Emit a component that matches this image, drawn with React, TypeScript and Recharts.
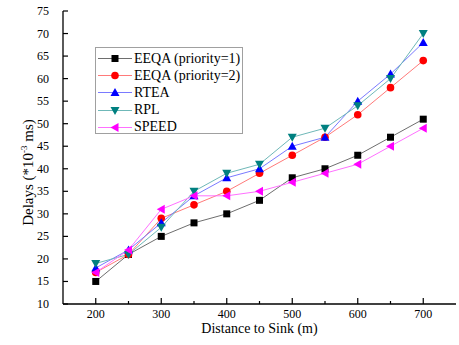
import React from 'react';
import { LineChart, Line, XAxis, YAxis, Label } from 'recharts';

const distances = [200, 250, 300, 350, 400, 450, 500, 550, 600, 650, 700];
const eeqa1 = [15, 21, 25, 28, 30, 33, 38, 40, 43, 47, 51];
const eeqa2 = [17, 21, 29, 32, 35, 39, 43, 47, 52, 58, 64];
const rtea = [18, 22, 28, 34, 38, 40, 45, 47, 55, 61, 68];
const rpl = [19, 21, 27, 35, 39, 41, 47, 49, 54, 60, 70];
const speed = [17, 22, 31, 34, 34, 35, 37, 39, 41, 45, 49];

const seriesNames = ['EEQA (priority=1)', 'EEQA (priority=2)', 'RTEA', 'RPL', 'SPEED'];
const seriesKeys = ['eeqa1', 'eeqa2', 'rtea', 'rpl', 'speed'];
const xTicks = [200, 250, 300, 350, 400, 450, 500, 550, 600, 650, 700];
const yTicks = [10, 15, 20, 25, 30, 35, 40, 45, 50, 55, 60, 65, 70, 75];

const data = distances.map((d, i) => ({
  distance: d,
  eeqa1: eeqa1[i],
  eeqa2: eeqa2[i],
  rtea: rtea[i],
  rpl: rpl[i],
  speed: speed[i],
}));

const FONT = '"Liberation Serif", "Times New Roman", serif';

const markerColors = ['#000000', '#ff0000', '#0000ff', '#008080', '#ff00ff'];
const lineColors = ['#6e6e6e', '#ff7a7a', '#7a7aff', '#6fb8b8', '#ff70ff'];

const Marker = ({ kind, cx, cy }: { kind: number; cx: number; cy: number }) => {
  const c = markerColors[kind];
  if (kind === 0) return <rect x={cx - 3.5} y={cy - 3.5} width={7} height={7} fill={c} />;
  if (kind === 1) return <circle cx={cx} cy={cy} r={3.8} fill={c} />;
  if (kind === 2)
    return <polygon points={`${cx},${cy - 4.5} ${cx - 4.5},${cy + 3.5} ${cx + 4.5},${cy + 3.5}`} fill={c} />;
  if (kind === 3)
    return <polygon points={`${cx},${cy + 4.5} ${cx - 4.5},${cy - 3.5} ${cx + 4.5},${cy - 3.5}`} fill={c} />;
  return <polygon points={`${cx - 4.5},${cy} ${cx + 3.5},${cy - 4.5} ${cx + 3.5},${cy + 4.5}`} fill={c} />;
};

const XTick = (props: any) => {
  const { x, y, payload } = props;
  const major = payload.value % 100 === 0;
  const axisY = y - 7;
  return (
    <g>
      <line x1={x} x2={x} y1={axisY} y2={axisY - (major ? 6 : 3)} stroke="#000" strokeWidth={1.2} />
      {major && (
        <text x={x} y={y + 7} textAnchor="middle" fontSize={12} fontFamily={FONT} fill="#000">
          {payload.value}
        </text>
      )}
    </g>
  );
};

const YTick = (props: any) => {
  const { x, y, payload } = props;
  return (
    <g>
      <line x1={x} x2={x + 5} y1={y} y2={y} stroke="#000" strokeWidth={1.2} />
      <text x={x - 14} y={y + 4} textAnchor="end" fontSize={12} fontFamily={FONT} fill="#000">
        {payload.value}
      </text>
    </g>
  );
};

const LegendBox = () => (
  <div
    style={{
      position: 'absolute',
      left: 95,
      top: 47,
      width: 146,
      height: 85,
      border: '1px solid #a0a0a0',
      background: '#fff',
      fontFamily: FONT,
      fontSize: 14,
    }}
  >
    {seriesNames.map((name, i) => (
      <div
        key={name}
        style={{ position: 'absolute', left: 1, top: 2 + i * 17.2, height: 17, display: 'flex', alignItems: 'center' }}
      >
        <svg width={37} height={17}>
          <line x1={1} x2={35} y1={8.5} y2={8.5} stroke={lineColors[i]} strokeWidth={1} />
          <Marker kind={i} cx={18} cy={8.5} />
        </svg>
        <span style={{ whiteSpace: 'nowrap' }}>{name}</span>
      </div>
    ))}
  </div>
);

export default function App() {
  return (
    <div style={{ position: 'absolute', left: 0, top: 0, width: 459, height: 345, background: '#fff' }}>
      <LineChart width={459} height={345} data={data} margin={{ top: 11, right: 3, left: 13, bottom: 6 }}>
        <XAxis
          dataKey="distance"
          type="number"
          domain={[150, 750]}
          ticks={xTicks}
          interval={0}
          tickSize={0}
          tickMargin={7}
          tick={<XTick />}
          height={35}
          axisLine={{ stroke: '#000', strokeWidth: 1.3 }}
        >
          <Label
            content={({ viewBox }: any) => (
              <text
                x={viewBox.x + viewBox.width / 2}
                y={viewBox.y + 29}
                textAnchor="middle"
                fontSize={14}
                fontFamily={FONT}
                fill="#000"
              >
                Distance to Sink (m)
              </text>
            )}
          />
        </XAxis>
        <XAxis
          xAxisId="top"
          orientation="top"
          dataKey="distance"
          type="number"
          domain={[150, 750]}
          tick={false}
          tickLine={false}
          height={0}
          axisLine={{ stroke: '#000', strokeWidth: 1.3 }}
        />
        <YAxis
          type="number"
          domain={[10, 75]}
          ticks={yTicks}
          interval={0}
          tickSize={0}
          tickMargin={0}
          tick={<YTick />}
          width={50}
          axisLine={{ stroke: '#000', strokeWidth: 1.3 }}
        >
          <Label
            content={({ viewBox }: any) => {
              const cx = 33;
              const cy = viewBox.y + viewBox.height / 2 + 15;
              return (
                <text
                  x={cx}
                  y={cy}
                  transform={`rotate(-90 ${cx} ${cy})`}
                  textAnchor="middle"
                  fontSize={15}
                  fontFamily={FONT}
                  fill="#000"
                >
                  Delays (*10
                  <tspan fontSize={9} dy={-6}>
                    -3
                  </tspan>
                  <tspan dy={6}> ms)</tspan>
                </text>
              );
            }}
          />
        </YAxis>
        <YAxis
          yAxisId="right"
          orientation="right"
          type="number"
          domain={[10, 75]}
          tick={false}
          tickLine={false}
          width={0}
          axisLine={{ stroke: '#000', strokeWidth: 1.3 }}
        />
        {seriesKeys.map((key, i) => (
          <Line
            key={key}
            dataKey={key}
            name={seriesNames[i]}
            stroke={lineColors[i]}
            strokeWidth={1}
            isAnimationActive={false}
            dot={(p: any) => <Marker key={`${key}-${p.index}`} kind={i} cx={p.cx} cy={p.cy} />}
            activeDot={false}
          />
        ))}
      </LineChart>
      <LegendBox />
    </div>
  );
}
